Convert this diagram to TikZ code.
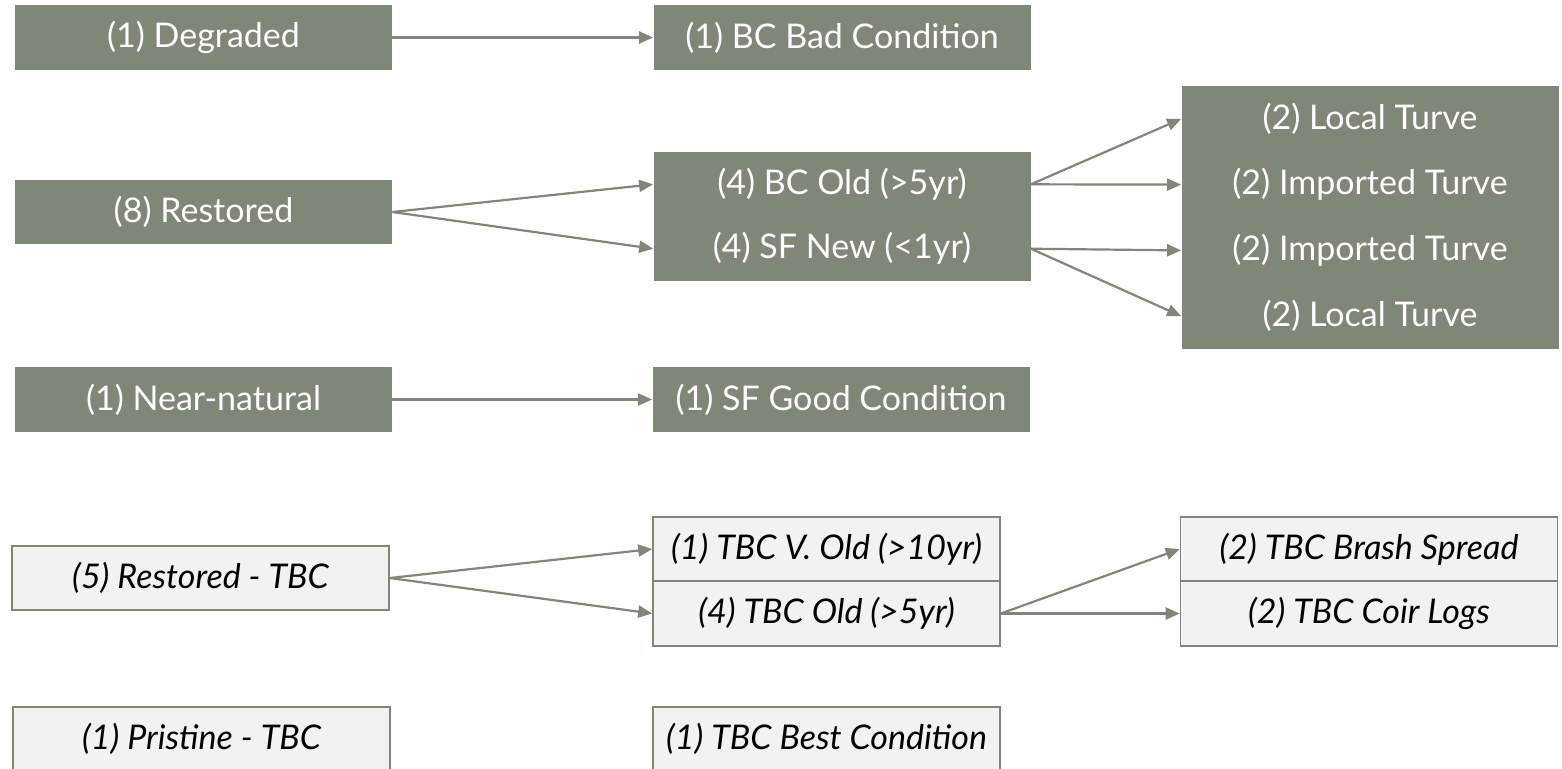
\documentclass[tikz,border=0pt]{standalone}
\usepackage{fontspec}
\setmainfont{Lato}
\usepackage{tikz}
\usetikzlibrary{arrows.meta}
\definecolor{sage}{HTML}{7F8778}
\definecolor{pale}{HTML}{F2F2F2}

\begin{document}
\begin{tikzpicture}[x=0.5pt,y=-0.5pt,font=\fontsize{17}{20}\selectfont,
				box/.style={inner sep=0pt,minimum width=188.5pt,minimum height=32.25pt,align=center},
				dark/.style={box,fill=sage,text=white},
				tbc/.style={box,draw=sage,thick,fill=pale,font=\fontsize{17}{20}\selectfont\itshape},
				link/.style={-{Triangle[length=7pt,width=6pt]},line width=1.1pt,sage}]
				\useasboundingbox (0,0) rectangle (1562,768);
				% condition
				\node[dark] (degr)  at (203.5,37.5)  {(1) Degraded};
				\node[dark] (rest)  at (203.5,212)   {(8) Restored};
				\node[dark] (near)  at (203.5,399.5) {(1) Near-natural};
				\node[tbc]  (restt) at (200.5,578)   {(5) Restored - TBC};
				\node[tbc]  (prist) at (201.5,739)   {(1) Pristine - TBC};
				% site
				\node[dark] (bcbad) at (842,37.5)    {(1) BC Bad Condition};
				\node[dark] (bcold) at (842,184.3)   {(4) BC Old (>5yr)};
				\node[dark] (sfnew) at (842,248.7)   {(4) SF New (<1yr)};
				\node[dark] (sfgood) at (841,399.5)  {(1) SF Good Condition};
				\node[tbc,minimum width=173.5pt] (vold)  at (826.5,549)  {(1) TBC V. Old (>10yr)};
				\node[tbc,minimum width=173.5pt] (told)  at (826.5,613.5){(4) TBC Old (>5yr)};
				\node[tbc,minimum width=173.5pt] (tbest) at (826.5,739)  {(1) TBC Best Condition};
				% treatment
				\node[dark,minimum height=32.9pt] (loc1) at (1370,118.9) {(2) Local Turve};
				\node[dark,minimum height=32.9pt] (imp1) at (1370,184.6) {(2) Imported Turve};
				\node[dark,minimum height=32.9pt] (imp2) at (1370,250.4) {(2) Imported Turve};
				\node[dark,minimum height=32.9pt] (loc2) at (1370,316.1) {(2) Local Turve};
				\node[tbc] (brash) at (1369,549)   {(2) TBC Brash Spread};
				\node[tbc] (coir)  at (1369,613.5) {(2) TBC Coir Logs};
				\draw[link] (degr.east)--(bcbad.west);
				\draw[link] (rest.east)--(bcold.west);
				\draw[link] (rest.east)--(sfnew.west);
				\draw[link] (near.east)--(sfgood.west);
				\draw[link] (bcold.east)--(loc1.west);
				\draw[link] (bcold.east)--(imp1.west);
				\draw[link] (sfnew.east)--(imp2.west);
				\draw[link] (sfnew.east)--(loc2.west);
				\draw[link] (restt.east)--(vold.west);
				\draw[link] (restt.east)--(told.west);
				\draw[link] (told.east)--(brash.west);
				\draw[link] (told.east)--(coir.west);
			\end{tikzpicture}
\end{document}
